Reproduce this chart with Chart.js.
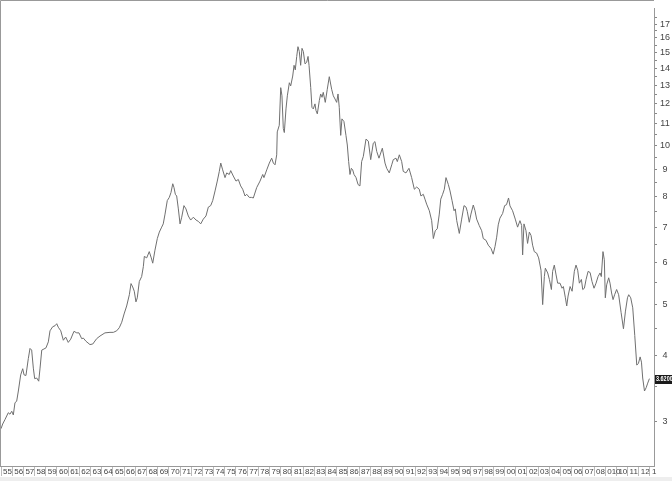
<!DOCTYPE html>
<html>
<head>
<meta charset="utf-8">
<script src="https://cdn.jsdelivr.net/npm/chart.js@4/dist/chart.umd.min.js"></script>
<style>
  html, body { margin: 0; padding: 0; background: #fff; }
  #wrap { width: 672px; height: 481px; }
</style>
</head>
<body>
<div id="wrap"><canvas id="chart" width="672" height="481"></canvas></div>
<script>
// decimal years
const dates = [
  1955.00, 1955.15, 1955.36, 1955.65, 1955.80, 1955.96, 1956.10, 1956.25, 1956.40, 1956.55,
  1956.76, 1956.94, 1957.06, 1957.23, 1957.44, 1957.59, 1957.74, 1957.89, 1958.01, 1958.19,
  1958.37, 1958.49, 1958.64, 1958.84, 1959.02, 1959.23, 1959.38, 1959.62, 1959.83, 1959.98,
  1960.12, 1960.34, 1960.57, 1960.78, 1961.01, 1961.23, 1961.52, 1961.77, 1961.97, 1962.21,
  1962.36, 1962.60, 1962.95, 1963.20, 1963.55, 1963.85, 1964.29, 1964.74, 1965.04, 1965.34,
  1965.57, 1965.79, 1966.00, 1966.23, 1966.47, 1966.62, 1966.77, 1966.91, 1967.06, 1967.18,
  1967.36, 1967.57, 1967.72, 1967.81, 1968.02, 1968.25, 1968.43, 1968.56, 1968.76, 1968.97,
  1969.15, 1969.36, 1969.50, 1969.66, 1969.86, 1970.04, 1970.19, 1970.35, 1970.46, 1970.58,
  1970.70, 1970.85, 1971.00, 1971.15, 1971.35, 1971.53, 1971.74, 1971.95, 1972.19, 1972.43,
  1972.63, 1972.85, 1973.08, 1973.32, 1973.53, 1973.74, 1973.92, 1974.13, 1974.33, 1974.51,
  1974.64, 1974.81, 1975.02, 1975.17, 1975.40, 1975.53, 1975.76, 1976.00, 1976.21, 1976.42,
  1976.60, 1976.81, 1976.96, 1977.19, 1977.40, 1977.55, 1977.85, 1978.15, 1978.39, 1978.50,
  1978.75, 1978.98, 1979.19, 1979.34, 1979.49, 1979.64, 1979.69, 1979.87, 1980.00, 1980.11,
  1980.23, 1980.32, 1980.47, 1980.59, 1980.77, 1980.89, 1981.07, 1981.19, 1981.30, 1981.43,
  1981.54, 1981.66, 1981.78, 1981.90, 1982.02, 1982.17, 1982.32, 1982.44, 1982.53, 1982.68,
  1982.79, 1982.91, 1983.06, 1983.15, 1983.27, 1983.45, 1983.57, 1983.69, 1983.80, 1983.98,
  1984.16, 1984.34, 1984.55, 1984.70, 1984.85, 1985.00, 1985.12, 1985.23, 1985.36, 1985.47,
  1985.65, 1985.83, 1985.95, 1986.07, 1986.19, 1986.31, 1986.43, 1986.55, 1986.73, 1986.91,
  1987.08, 1987.23, 1987.38, 1987.62, 1987.83, 1988.04, 1988.27, 1988.42, 1988.58, 1988.78,
  1989.08, 1989.32, 1989.47, 1989.70, 1989.92, 1990.06, 1990.30, 1990.42, 1990.60, 1990.81,
  1990.95, 1991.19, 1991.46, 1991.70, 1991.94, 1992.15, 1992.38, 1992.53, 1992.74, 1992.89,
  1993.04, 1993.28, 1993.49, 1993.64, 1993.81, 1993.99, 1994.17, 1994.30, 1994.47, 1994.62,
  1994.77, 1994.98, 1995.13, 1995.31, 1995.49, 1995.60, 1995.73, 1995.96, 1996.17, 1996.38,
  1996.56, 1996.67, 1996.85, 1997.00, 1997.21, 1997.36, 1997.51, 1997.74, 1997.96, 1998.10,
  1998.34, 1998.55, 1998.79, 1998.99, 1999.15, 1999.30, 1999.44, 1999.59, 1999.83, 2000.01,
  2000.18, 2000.36, 2000.49, 2000.72, 2000.96, 2001.17, 2001.38, 2001.53, 2001.62, 2001.74,
  2001.92, 2002.06, 2002.22, 2002.37, 2002.51, 2002.66, 2002.87, 2003.05, 2003.26, 2003.41,
  2003.56, 2003.65, 2003.86, 2004.01, 2004.19, 2004.30, 2004.45, 2004.61, 2004.75, 2004.96,
  2005.14, 2005.26, 2005.44, 2005.56, 2005.68, 2005.86, 2006.04, 2006.24, 2006.39, 2006.54,
  2006.69, 2006.87, 2006.99, 2007.14, 2007.29, 2007.47, 2007.65, 2007.82, 2008.00, 2008.18,
  2008.36, 2008.54, 2008.65, 2008.80, 2008.92, 2009.01, 2009.13, 2009.31, 2009.43, 2009.57,
  2009.70, 2009.84, 2010.02, 2010.20, 2010.42, 2010.63, 2010.81, 2010.99, 2011.10, 2011.28,
  2011.46, 2011.64, 2011.82, 2011.97, 2012.12, 2012.24, 2012.35, 2012.51, 2012.66, 2012.80,
  2012.95
];

// yield, percent
const yields = [
  2.91, 2.97, 3.03, 3.12, 3.10, 3.14, 3.09, 3.26, 3.28, 3.43,
  3.68, 3.78, 3.68, 3.67, 3.95, 4.13, 4.10, 3.79, 3.62, 3.63,
  3.58, 3.79, 4.10, 4.12, 4.14, 4.25, 4.46, 4.54, 4.56, 4.60,
  4.53, 4.46, 4.28, 4.34, 4.24, 4.30, 4.45, 4.42, 4.42, 4.31,
  4.32, 4.26, 4.20, 4.21, 4.31, 4.36, 4.42, 4.43, 4.43, 4.46,
  4.52, 4.63, 4.80, 4.97, 5.22, 5.48, 5.40, 5.30, 5.06, 5.15,
  5.53, 5.65, 5.90, 6.17, 6.13, 6.30, 6.13, 5.99, 6.34, 6.67,
  6.86, 7.01, 7.11, 7.42, 7.87, 7.98, 8.15, 8.47, 8.33, 8.09,
  8.03, 7.59, 7.11, 7.32, 7.70, 7.59, 7.36, 7.23, 7.32, 7.23,
  7.19, 7.11, 7.26, 7.36, 7.65, 7.70, 7.87, 8.21, 8.57, 8.94,
  9.27, 9.00, 8.70, 8.88, 8.82, 8.97, 8.76, 8.57, 8.63, 8.39,
  8.27, 8.03, 8.09, 7.98, 7.98, 7.96, 8.33, 8.57, 8.82, 8.70,
  9.00, 9.27, 9.47, 9.27, 9.20, 9.61, 10.62, 10.93, 12.88, 12.43,
  10.78, 10.59, 11.74, 12.43, 13.16, 12.98, 13.55, 14.20, 13.92, 14.76,
  15.40, 15.08, 14.20, 15.29, 15.08, 14.29, 14.39, 14.76, 14.20, 12.88,
  11.82, 11.74, 12.00, 11.66, 11.49, 12.18, 12.53, 12.35, 12.62, 12.08,
  12.79, 13.51, 12.79, 12.43, 12.26, 12.08, 12.53, 11.82, 10.46, 11.24,
  11.11, 10.46, 10.03, 9.33, 8.82, 9.06, 9.00, 8.82, 8.70, 8.44,
  8.39, 9.33, 9.54, 10.29, 10.20, 9.41, 10.11, 10.18, 9.75, 9.47,
  9.89, 9.27, 9.06, 8.88, 9.20, 9.41, 9.47, 9.33, 9.61, 9.33,
  8.94, 8.88, 9.06, 8.70, 8.27, 8.35, 8.27, 8.03, 8.09, 7.92,
  7.75, 7.53, 7.21, 6.67, 6.90, 6.96, 7.42, 7.92, 8.09, 8.27,
  8.70, 8.44, 8.21, 7.87, 7.53, 7.59, 7.21, 6.82, 7.26, 7.70,
  7.65, 7.51, 7.16, 7.42, 7.72, 7.53, 7.26, 7.06, 6.90, 6.67,
  6.62, 6.48, 6.39, 6.23, 6.44, 6.71, 7.08, 7.29, 7.44, 7.70,
  7.73, 7.96, 7.69, 7.53, 7.26, 7.01, 7.21, 7.06, 6.21, 7.11,
  6.90, 6.53, 6.86, 6.76, 6.48, 6.30, 6.26, 6.13, 5.81, 5.00,
  5.65, 5.86, 5.74, 5.58, 5.34, 5.78, 5.94, 5.69, 5.49, 5.49,
  5.37, 5.41, 5.15, 4.97, 5.19, 5.41, 5.30, 5.78, 5.94, 5.81,
  5.49, 5.58, 5.34, 5.37, 5.58, 5.78, 5.75, 5.53, 5.37, 5.49,
  5.65, 5.74, 5.65, 6.30, 6.08, 5.15, 5.45, 5.62, 5.49, 5.26,
  5.11, 5.22, 5.34, 5.22, 4.83, 4.50, 4.86, 5.15, 5.22, 5.15,
  4.93, 4.37, 3.84, 3.87, 3.98, 3.89, 3.63, 3.43, 3.48, 3.55,
  3.62
];

const yearTicks = [];
for (let y = 1955; y <= 2013; y++) yearTicks.push(y);
const yearLabels = [
  "55","56","57","58","59","60","61","62","63","64","65","66","67","68","69",
  "70","71","72","73","74","75","76","77","78","79","80","81","82","83","84",
  "85","86","87","88","89","90","91","92","93","94","95","96","97","98","99",
  "00","01","02","03","04","05","06","07","08","010","10","11","12","1"
];
const yTicks = [3, 3.5, 4, 4.5, 5, 5.5, 6, 6.5, 7, 7.5, 8, 8.5, 9, 9.5, 10, 10.5,
  11, 11.5, 12, 12.5, 13, 13.5, 14, 14.5, 15, 15.5, 16, 16.5, 17, 17.5];
const lastLabel = "3.6200";

const FONT = '"Liberation Sans Narrow", "Liberation Sans", Arial, sans-serif';

const frame = {
  id: "frame",
  beforeDraw(chart) {
    const c = chart.ctx;
    c.save();
    c.fillStyle = "#ffffff";
    c.fillRect(0, 0, chart.width, chart.height);
    c.fillStyle = "#eeeeee";
    c.fillRect(0, 477, chart.width, chart.height - 477);
    c.restore();
  },
  afterDraw(chart) {
    const c = chart.ctx;
    const a = chart.chartArea;
    c.save();
    c.strokeStyle = "#999";
    c.lineWidth = 1;
    c.beginPath();
    c.moveTo(0.5, a.bottom);
    c.lineTo(0.5, 0.5);
    c.lineTo(a.right, 0.5);
    c.stroke();
    // last value tag on the price axis
    const y = Math.round(chart.scales.y.getPixelForValue(yields[yields.length - 1]));
    c.fillStyle = "#1a1a1a";
    c.fillRect(a.right + 1, y - 4, chart.width - a.right - 1, 9);
    c.fillStyle = "#fff";
    c.font = "bold 7px " + FONT;
    c.textBaseline = "middle";
    c.translate(a.right + 2, y + 0.5);
    c.scale(0.78, 1);
    c.textAlign = "left";
    c.fillText(lastLabel, 0, 0);
    c.restore();
  }
};

new Chart(document.getElementById("chart"), {
  type: "line",
  data: {
    datasets: [{
      data: dates.map((d, i) => ({ x: d, y: yields[i] })),
      borderColor: "#707070",
      borderWidth: 1,
      pointRadius: 0,
      tension: 0,
      fill: false
    }]
  },
  options: {
    responsive: false,
    animation: false,
    layout: { padding: 0 },
    plugins: { legend: { display: false }, tooltip: { enabled: false } },
    scales: {
      x: {
        type: "linear",
        min: 1954.91,
        max: 2013.36,
        afterBuildTicks: (s) => { s.ticks = yearTicks.map(v => ({ value: v })); },
        afterFit: (s) => { s.height = 15; },
        grid: { drawOnChartArea: false, tickLength: 10, color: "#bbb" },
        border: { color: "#999" },
        ticks: {
          autoSkip: false,
          maxRotation: 0,
          align: "start",
          labelOffset: 2,
          padding: -9,
          color: "#444",
          font: { family: FONT, size: 8 },
          callback: (v, i) => yearLabels[i]
        }
      },
      y: {
        type: "logarithmic",
        position: "right",
        min: 2.473,
        max: 18.2,
        bounds: "data",
        afterBuildTicks: (s) => { s.ticks = yTicks.map(v => ({ value: v })); },
        afterFit: (s) => { s.width = 18; },
        grid: { drawOnChartArea: false, tickLength: 3, color: "#888" },
        border: { color: "#999" },
        ticks: {
          padding: 3,
          crossAlign: "center",
          color: "#444",
          font: { family: FONT, size: 9 },
          callback: (v) => Number.isInteger(v) ? String(v) : ""
        }
      }
    }
  },
  plugins: [frame]
});
</script>
</body>
</html>
